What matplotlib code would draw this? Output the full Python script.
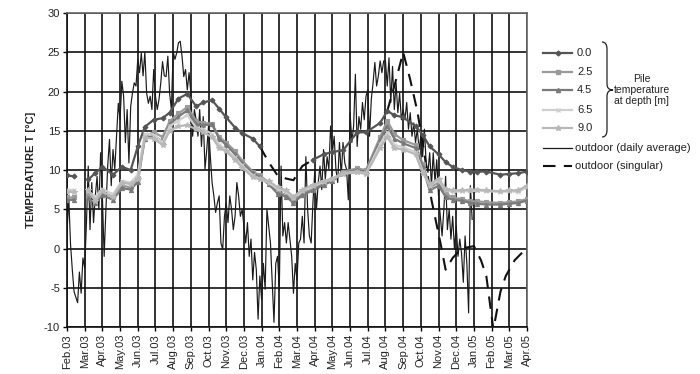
import numpy as np
import matplotlib.pyplot as plt
from matplotlib.lines import Line2D
from matplotlib.path import Path
from matplotlib.patches import PathPatch

plt.rcParams['font.family'] = ['Liberation Sans', 'DejaVu Sans']
plt.rcParams['axes.unicode_minus'] = False

W, H = 700, 374

month_labels = ['Feb.03', 'Mar.03', 'Apr.03', 'May.03', 'Jun.03', 'Jul.03', 'Aug.03',
                'Sep.03', 'Oct.03', 'Nov.03', 'Dec.03', 'Jan.04', 'Feb.04', 'Mar.04',
                'Apr.04', 'May.04', 'Jun.04', 'Jul.04', 'Aug.04', 'Sep.04', 'Oct.04',
                'Nov.04', 'Dec.04', 'Jan.05', 'Feb.05', 'Mar.05', 'Apr.05']

# pile readings, time in months after 1 Feb 2003 (nan = no reading)
pile_t = [0.0, 0.4, 0.8, 1.2, 1.6, 2.0, 2.6, 3.1, 3.6, 4.0, 4.4, 4.9, 5.4, 5.8, 6.3, 6.8,
          7.3, 7.7, 8.2, 8.6, 9.0, 9.5, 9.9, 10.5, 10.9, 11.4, 11.9, 12.4, 12.8, 13.3,
          13.9, 14.5, 15.0, 15.6, 16.4, 16.9, 17.7, 18.1, 18.5, 19.0, 19.7, 20.1, 20.5,
          21.0, 21.4, 21.8, 22.3, 22.8, 23.2, 23.7, 24.5, 25.0, 25.5, 26.0]
nan = np.nan
pile_00 = [9.3, 9.2, nan, 8.8, 9.6, 10.4, 9.4, 10.4, 10.0, 13.0, 15.5, 16.4, 16.6, 17.3,
           19.1, 19.7, 18.1, 18.6, 18.9, 17.8, 16.7, 15.4, 14.7, 14.0, 13.0, nan, nan, nan,
           nan, nan, 11.3, 12.0, 12.3, 12.5, 14.8, 14.8, 16.0, 17.5, 17.0, 16.7, 15.6, 14.5,
           13.0, 12.0, 11.0, 10.4, 10.0, 9.8, 9.8, 9.8, 9.4, 9.5, 9.6, 9.8]
pile_25 = [6.5, 6.5, nan, 7.0, 6.2, 7.1, 6.6, 8.0, 7.8, 9.0, 14.3, 14.8, 14.2, 16.2, 17.2,
           18.0, 16.2, 16.0, 15.9, 14.2, 13.5, 12.4, 11.2, 9.8, 9.3, 8.4, 7.2, 6.8, 6.0, 7.0,
           7.6, 8.4, 8.8, 9.8, 10.2, 10.0, 14.2, 16.3, 14.6, 13.8, 13.2, 10.8, 7.8, 8.4, 7.0,
           6.5, 6.3, 6.0, 6.0, 5.9, 5.8, 5.9, 6.0, 6.3]
pile_45 = [6.2, 6.2, nan, 6.4, 5.8, 6.8, 6.2, 7.7, 7.5, 8.5, 14.0, 14.4, 13.6, 15.8, 16.8,
           17.6, 15.8, 15.7, 15.8, 14.0, 13.2, 12.0, 10.9, 9.6, 9.1, 8.2, 7.0, 6.6, 5.8, 6.8,
           7.4, 8.1, 8.6, 9.6, 10.0, 9.7, 13.8, 15.6, 14.0, 13.4, 12.8, 10.4, 7.4, 8.0, 6.6,
           6.2, 6.1, 5.8, 5.7, 5.6, 5.6, 5.7, 5.8, 6.1]
pile_65 = [7.5, 7.4, nan, 7.3, 6.6, 7.6, 6.9, 8.6, 8.4, 9.4, 14.6, 14.5, 13.5, 15.6, 16.3,
           17.0, 15.4, 15.2, 14.6, 13.2, 12.6, 11.6, 10.6, 9.3, 8.9, 8.4, 7.6, 7.2, 6.4, 7.3,
           7.9, 8.5, 8.8, 9.6, 9.8, 9.6, 13.3, 14.8, 13.2, 12.9, 12.3, 9.9, 8.0, 8.7, 7.4,
           7.2, 7.3, 7.3, 7.4, 7.3, 7.2, 7.3, 7.2, 7.8]
pile_90 = [7.2, 7.2, nan, 7.5, 6.0, 7.3, 6.5, 8.4, 8.2, 8.8, 14.1, 14.0, 13.2, 15.0, 15.6,
           15.7, 15.2, 14.8, 14.2, 12.8, 12.4, 11.3, 10.3, 9.1, 8.8, 8.6, 7.8, 7.4, 6.6, 7.5,
           8.1, 8.6, 8.9, 9.5, 9.7, 9.5, 12.8, 14.2, 12.8, 12.6, 12.0, 9.6, 8.2, 8.9, 7.6,
           7.4, 7.4, 7.5, 7.5, 7.4, 7.3, 7.4, 7.4, 8.0]

# outdoor daily average, one row per month, ten readings per month
daily_rows = [
    [2.0, 6.5, 0.5, -2.7, -5.5, -6.2, -6.9, -3.0, -5.7, -1.2],
    [-2.5, 3.3, 10.5, 2.4, 8.4, 3.3, 6.7, 9.2, 5.0, 12.2],
    [6.7, -1.0, 5.0, 10.5, 13.9, 8.0, 12.6, 10.1, 14.3, 18.5],
    [16.4, 21.3, 19.4, 13.5, 17.7, 10.9, 18.1, 19.8, 21.1, 20.7],
    [24.1, 22.4, 24.9, 22.0, 25.0, 19.8, 18.5, 19.4, 17.7, 22.8],
    [19.4, 17.7, 19.0, 21.1, 23.8, 22.0, 21.9, 24.5, 19.8, 17.7],
    [25.1, 24.1, 24.9, 26.2, 26.4, 24.5, 21.9, 22.8, 20.2, 22.4],
    [19.8, 14.3, 17.7, 16.4, 14.3, 17.7, 13.0, 16.8, 10.1, 12.6],
    [15.6, 11.8, 8.4, 6.7, 4.6, 5.8, 6.7, 0.7, -0.1, 4.1],
    [5.8, 3.3, 6.7, 5.0, 2.4, 4.1, 8.4, 6.7, 4.1, 5.0],
    [2.9, 0.7, 3.3, -1.0, 1.2, -4.0, -0.5, -2.7, -9.0, -3.5],
    [-6.5, -1.9, -5.2, 5.0, 2.9, 0.7, -4.4, -9.4, -1.9, -1.0],
    [-5.3, 10.5, 1.6, 3.3, 0.7, 3.3, 1.2, -1.0, -5.7, -1.9],
    [-4.0, 0.7, 1.2, 4.1, 0.7, 11.7, 5.0, 1.6, 0.7, 5.8],
    [9.7, 5.0, 8.4, 10.5, 7.5, 12.6, 8.8, 11.7, 10.1, 15.6],
    [12.2, 14.3, 10.1, 8.4, 13.5, 9.2, 13.5, 10.9, 10.1, 6.2],
    [17.3, 13.5, 15.6, 22.2, 13.0, 16.8, 15.2, 18.6, 16.4, 19.4],
    [20.2, 14.3, 19.0, 21.1, 23.7, 20.7, 22.0, 23.9, 22.4, 23.9],
    [23.9, 20.7, 24.3, 18.6, 23.2, 17.7, 21.1, 17.3, 19.8, 16.4],
    [17.7, 16.4, 18.6, 15.2, 17.3, 14.3, 16.0, 13.5, 15.2, 12.6],
    [14.3, 11.7, 15.2, 10.9, 9.7, 12.2, 8.0, 12.2, 8.4, 11.3],
    [6.7, 4.1, 1.6, 5.0, 9.2, 2.4, 5.0, 1.2, 4.1, -0.1],
    [2.9, -1.0, 1.2, -0.6, -4.3, 1.6, -1.9, -8.2, 8.0, 3.7],
]

# outdoor spot readings (nan = no reading)
single_t = [10.9, 11.4, 11.9, 12.4, 12.8, 13.3, 13.9, 16.0, 18.1, 18.6, 19.0, 19.4, 19.8,
            20.1, 20.6, 21.1, 21.4, 21.8, 22.3, 23.0, 23.4, 23.7, 24.1, 24.5, 24.8, 25.3,
            26.0]
single_v = [13.0, 11.0, 9.3, 8.9, 8.7, 10.5, 11.3, nan, 17.5, 21.5, 25.0, 21.5, 17.5,
            13.5, 6.2, 0.8, -2.7, -1.2, 0.0, 0.3, -1.5, -3.5, -10.3, -5.5, -3.5, -1.5, 0.1]

pile_names = ['0.0', '2.5', '4.5', '6.5', '9.0']
pile_data = [pile_00, pile_25, pile_45, pile_65, pile_90]
pile_colors = ['#555555', '#9a9a9a', '#7a7a7a', '#cfcfcf', '#b8b8b8']
pile_markers = ['D', 's', '^', 'x', '*']
pile_msize = [2.5, 2.5, 3.0, 3.5, 4.0]


def fpx(x, y):
    return x / W, 1 - y / H


fig = plt.figure(figsize=(W / 100, H / 100), dpi=100)
ax = fig.add_axes([67 / W, 1 - 327 / H, 460 / W, 314 / H])

daily_v = np.concatenate(daily_rows)
daily_t = np.arange(len(daily_v)) * 0.1
ax.plot(daily_t, daily_v, color='#1a1a1a', lw=0.85, zorder=2)
ax.plot(single_t, single_v, color='#111111', lw=1.5, dashes=(6, 4), zorder=3)
for vals, c, m, ms in zip(pile_data, pile_colors, pile_markers, pile_msize):
    ax.plot(pile_t, vals, color=c, lw=1.6, marker=m, ms=ms, mec=c, mfc=c, mew=0.8, zorder=4)

ax.set_xlim(0, 26)
ax.set_ylim(-10, 30)
ax.set_xticks(range(len(month_labels)))
ax.set_xticklabels(month_labels, rotation=90, fontsize=8, color='#222222')
ax.set_yticks(range(-10, 31, 5))
ax.tick_params(axis='y', labelsize=8, length=3, width=1, pad=2, labelcolor='#222222')
ax.tick_params(axis='x', length=3, width=1, pad=2)
ax.grid(True, color='#111111', lw=1.2)
ax.set_axisbelow(True)
for side in ['top', 'right']:
    ax.spines[side].set_color('#666666')
    ax.spines[side].set_linewidth(1.2)
for side in ['left', 'bottom']:
    ax.spines[side].set_color('#111111')
    ax.spines[side].set_linewidth(1.2)
ax.set_ylabel('TEMPERATURE T [°C]', fontsize=8, fontweight='bold', color='#222222')
ax.yaxis.set_label_coords(-31 / 460, 0.5)

# legend drawn by hand in pixel positions
rows_y = [53, 72, 90, 110, 128]
for name, c, m, ms, y in zip(pile_names, pile_colors, pile_markers, pile_msize, rows_y):
    (x0, yy), (x1, _) = fpx(543, y), fpx(572, y)
    fig.add_artist(Line2D([x0, (x0 + x1) / 2, x1], [yy] * 3, transform=fig.transFigure,
                          color=c, lw=1.6, marker=m, ms=ms, mec=c, mfc=c, markevery=[1]))
    fig.text(*fpx(577, y), name, fontsize=8, va='center', ha='left', color='#222222')

(x0, yy), (x1, _) = fpx(543, 148), fpx(572, 148)
fig.add_artist(Line2D([x0, x1], [yy, yy], transform=fig.transFigure, color='#1a1a1a', lw=0.9))
fig.text(*fpx(575, 148), 'outdoor (daily average)', fontsize=8, va='center', ha='left',
         color='#222222')
(x0, yy), (x1, _) = fpx(543, 166), fpx(572, 166)
fig.add_artist(Line2D([x0, x1], [yy, yy], transform=fig.transFigure, color='#111111',
                      lw=1.5, dashes=(6, 4)))
fig.text(*fpx(575, 166), 'outdoor (singular)', fontsize=8, va='center', ha='left',
         color='#222222')

# curly brace grouping the pile depths
bx, btop, bbot, btip, bmid = 602, 42, 137, 613, 90
verts = [fpx(bx, btop), fpx(bx + 5, btop), fpx(bx + 5, btop + 7),
         fpx(bx + 5, bmid - 6),
         fpx(bx + 5, bmid), fpx(btip, bmid),
         fpx(bx + 5, bmid), fpx(bx + 5, bmid + 6),
         fpx(bx + 5, bbot - 7),
         fpx(bx + 5, bbot), fpx(bx, bbot)]
codes = [Path.MOVETO, Path.CURVE3, Path.CURVE3, Path.LINETO, Path.CURVE3, Path.CURVE3,
         Path.CURVE3, Path.CURVE3, Path.LINETO, Path.CURVE3, Path.CURVE3]
fig.add_artist(PathPatch(Path(verts, codes), transform=fig.transFigure, fill=False,
                         ec='#222222', lw=0.9))
fig.text(*fpx(642, 90), 'Pile\ntemperature\nat depth [m]', fontsize=7.5,
         ha='center', va='center', linespacing=1.15, color='#222222')

fig.savefig('out.png', dpi=100)
